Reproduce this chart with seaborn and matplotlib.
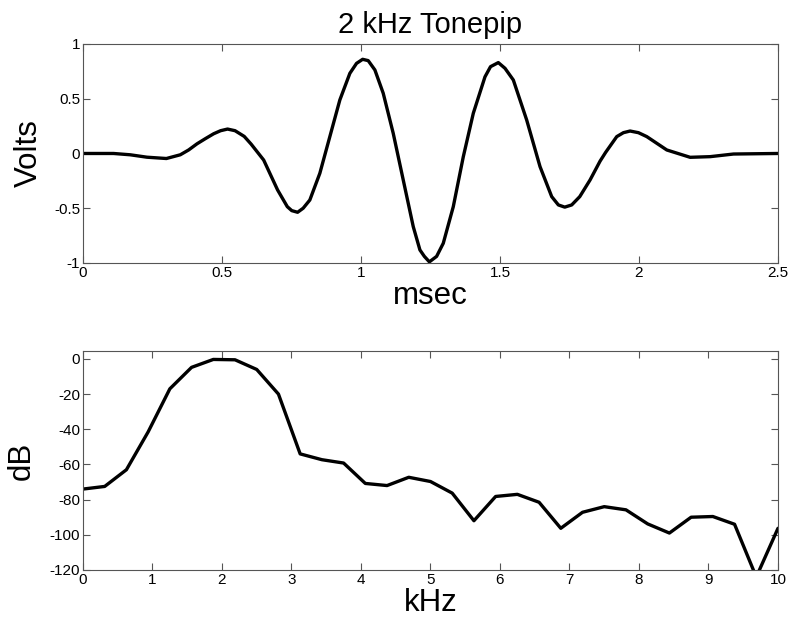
import numpy as np
import pandas as pd
import seaborn as sns
import matplotlib
matplotlib.use("Agg")
import matplotlib.pyplot as plt

# Tone pip waveform (time in ms, amplitude in volts)
time_ms = [0.00, 0.11, 0.17, 0.23, 0.30, 0.35, 0.38, 0.41, 0.44, 0.47,
           0.495, 0.52, 0.547, 0.58, 0.605, 0.65, 0.70, 0.735, 0.751, 0.772,
           0.792, 0.816, 0.852, 0.888, 0.924, 0.960, 0.984, 1.006, 1.026, 1.05,
           1.08, 1.116, 1.152, 1.188, 1.212, 1.228, 1.246, 1.272, 1.296, 1.332,
           1.368, 1.404, 1.446, 1.466, 1.494, 1.518, 1.548, 1.596, 1.644, 1.686,
           1.71, 1.733, 1.758, 1.787, 1.824, 1.86, 1.88, 1.92, 1.944, 1.968,
           1.998, 2.028, 2.10, 2.184, 2.256, 2.34, 2.50]
volts = [0.0, 0.0, -0.012, -0.034, -0.046, -0.012, 0.032, 0.088, 0.135, 0.18,
         0.208, 0.223, 0.208, 0.156, 0.085, -0.06, -0.333, -0.486, -0.522, -0.537,
         -0.50, -0.425, -0.181, 0.154, 0.489, 0.732, 0.823, 0.86, 0.848, 0.763,
         0.55, 0.184, -0.242, -0.668, -0.881, -0.94, -0.99, -0.94, -0.82, -0.486,
         -0.03, 0.367, 0.70, 0.793, 0.83, 0.778, 0.671, 0.306, -0.12, -0.394,
         -0.47, -0.49, -0.47, -0.394, -0.242, -0.07, 0.01, 0.154, 0.19, 0.205,
         0.19, 0.154, 0.032, -0.035, -0.029, -0.005, 0.0]

# Magnitude spectrum (frequency in kHz, level in dB)
freq_khz = [0.0, 0.3125, 0.625, 0.9375, 1.25, 1.5625, 1.875, 2.1875, 2.5, 2.8125,
            3.125, 3.4375, 3.75, 4.0625, 4.375, 4.6875, 5.0, 5.3125, 5.625, 5.9375,
            6.25, 6.5625, 6.875, 7.1875, 7.5, 7.8125, 8.125, 8.4375, 8.75, 9.0625,
            9.375, 9.6875, 10.0]
level_db = [-74, -72.5, -63, -41.5, -17, -4.8, -0.3, -0.5, -6, -20,
            -54, -57.3, -59.2, -70.8, -72, -67.3, -69.7, -76.3, -92, -78.2,
            -77, -81.5, -96.3, -87.2, -84, -85.8, -93.8, -99, -90, -89.6,
            -94, -124, -96.3]

time_ticks = [0, 0.5, 1, 1.5, 2, 2.5]
time_labels = ["0", "0.5", "1", "1.5", "2", "2.5"]
volt_ticks = [-1, -0.5, 0, 0.5, 1]
volt_labels = ["-1", "-0.5", "0", "0.5", "1"]
freq_ticks = list(range(0, 11))
db_ticks = [-120, -100, -80, -60, -40, -20, 0]

sns.set_style("white")
plt.rcParams["font.family"] = ["Liberation Sans", "DejaVu Sans"]
plt.rcParams["axes.unicode_minus"] = False
plt.rcParams["text.color"] = "black"
plt.rcParams["axes.labelcolor"] = "black"

wave = pd.DataFrame({"t": time_ms, "v": volts})
spec = pd.DataFrame({"f": freq_khz, "db": level_db})

fig = plt.figure(figsize=(7.88, 6.23), dpi=100)
ax1 = fig.add_axes([0.1053, 0.5779, 0.882, 0.3515])
ax2 = fig.add_axes([0.1053, 0.0851, 0.882, 0.3515])

line_kw = dict(color="black", linewidth=2.4, sort=False, estimator=None,
               solid_joinstyle="round", solid_capstyle="round")
sns.lineplot(data=wave, x="t", y="v", ax=ax1, **line_kw)
sns.lineplot(data=spec, x="f", y="db", ax=ax2, **line_kw)

ax1.set_xlim(0, 2.5)
ax1.set_ylim(-1, 1)
ax1.set_xticks(time_ticks)
ax1.set_xticklabels(time_labels)
ax1.set_yticks(volt_ticks)
ax1.set_yticklabels(volt_labels)
ax1.set_title("2 kHz Tonepip", fontsize=21, pad=8, color="black")
ax1.set_xlabel("msec", fontsize=22.5, labelpad=1)
ax1.set_ylabel("Volts", fontsize=22.5, labelpad=7.5)

ax2.set_xlim(0, 10)
ax2.set_ylim(-120, 4.5)
ax2.set_xticks(freq_ticks)
ax2.set_yticks(db_ticks)
ax2.set_xlabel("kHz", fontsize=22.5, labelpad=1)
ax2.set_ylabel("dB", fontsize=22.5, labelpad=9)

for ax in (ax1, ax2):
    for side in ax.spines.values():
        side.set_visible(True)
        side.set_color("#555555")
        side.set_linewidth(0.8)
    ax.tick_params(direction="in", length=5, width=0.8, color="#555555",
                   top=True, right=True, bottom=True, left=True,
                   labelsize=11, labelcolor="black", pad=2)

fig.savefig("out.png", dpi=100)
